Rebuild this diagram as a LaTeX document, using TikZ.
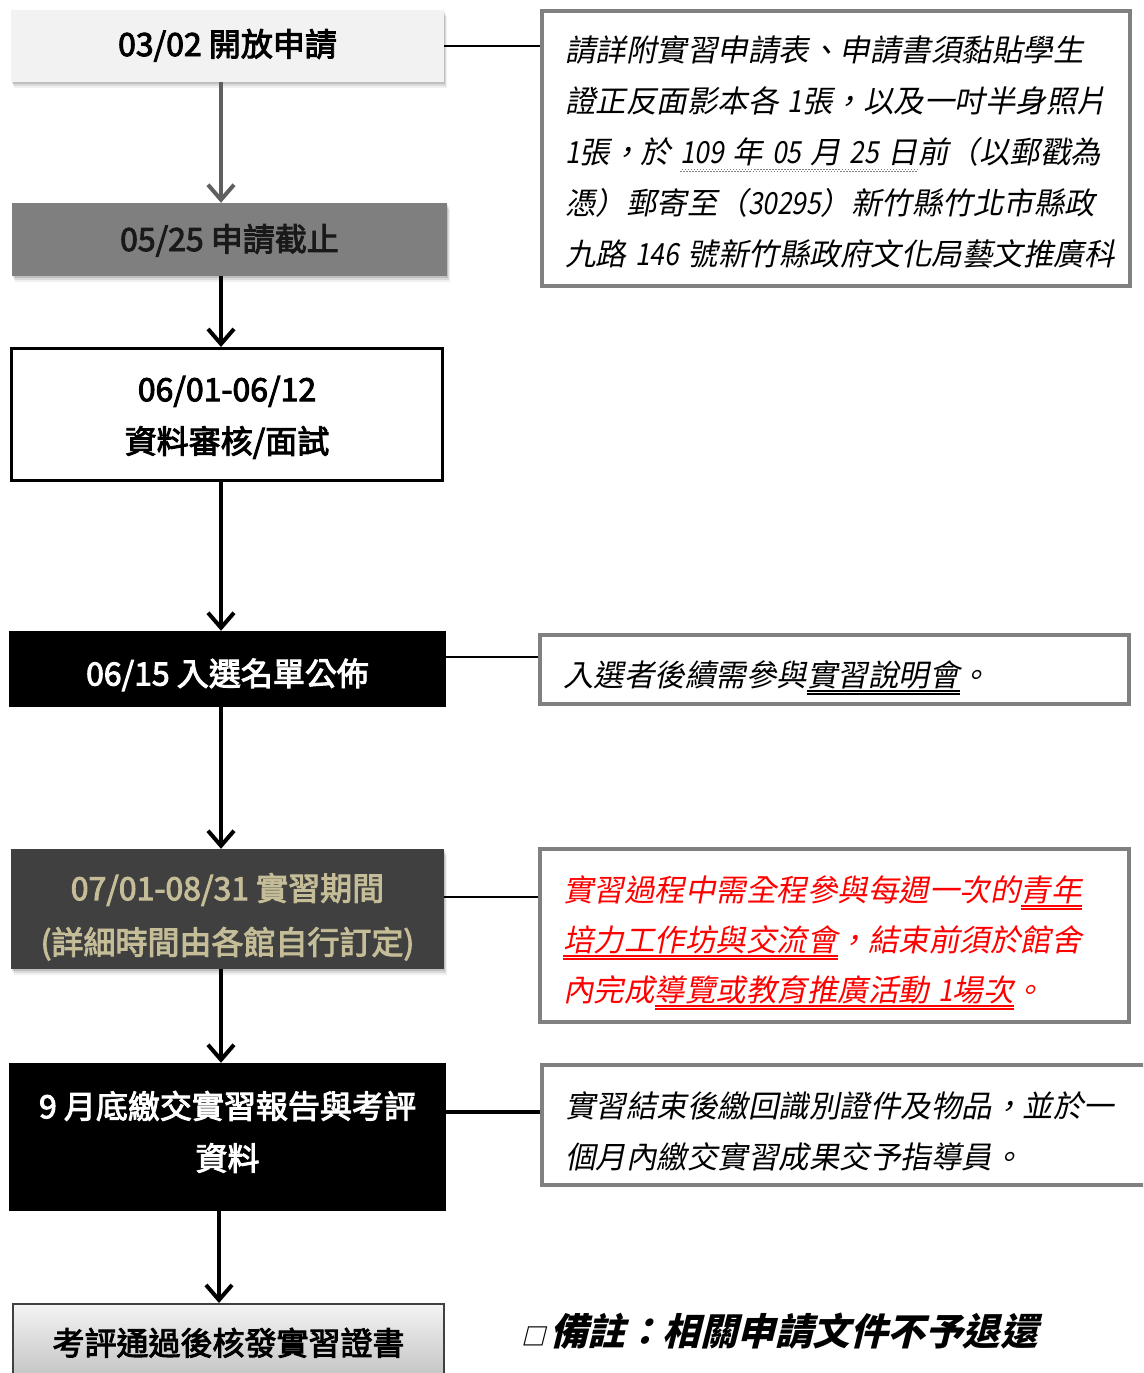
\documentclass[tikz,border=0pt]{standalone}
\usepackage{fontspec}
\usetikzlibrary{arrows.meta,shadows}
\newfontfamily\cjk{Noto Sans CJK TC}[FakeBold=3]
\newfontfamily\cjki{Noto Sans CJK TC}[FakeSlant=0.2]
\newfontfamily\cjkn{Noto Sans CJK TC}[FakeSlant=0.25]
\definecolor{boxA}{HTML}{F2F2F2}
\definecolor{boxB}{HTML}{7F7F7F}
\definecolor{boxE}{HTML}{404040}
\definecolor{tan}{HTML}{C4BD97}
\definecolor{arrgray}{HTML}{5F5F5F}
\definecolor{noteline}{HTML}{808080}
\definecolor{redtext}{HTML}{FF0000}
\newsavebox{\ulbox}
\newcommand\dul[1]{\sbox{\ulbox}{#1}\leavevmode\rlap{\lower8pt\hbox{\vbox{\hrule height1.4pt width\wd\ulbox\kern1.6pt\hrule height1.4pt width\wd\ulbox}}}\usebox{\ulbox}}
\newcommand\wav[1]{\sbox{\ulbox}{#1}\leavevmode\rlap{\hbox to\wd\ulbox{\color{gray}\xleaders\hbox{\rule[-8pt]{1.5pt}{0.9pt}\rule[-6.6pt]{1.5pt}{0.9pt}}\hfill}}\usebox{\ulbox}}
\newcommand\nd[1]{\scalebox{0.86}[1]{#1}}
\newcommand\ns{\hskip9pt\relax}
\begin{document}
\begin{tikzpicture}[x=1pt,y=-1pt,
  flowbox/.style={rectangle, inner sep=0pt, align=center, text depth=4pt,
    font=\cjk\fontsize{32}{52}\selectfont},
  notebox/.style={rectangle, draw=noteline, line width=4pt, fill=white,
    align=left, inner xsep=23pt, inner ysep=0pt,
    font=\cjki\fontsize{30.5}{51}\selectfont},
  shd/.style={drop shadow={shadow xshift=0.5pt, shadow yshift=-2pt, opacity=0.12, fill=black},
              drop shadow={shadow xshift=1.5pt, shadow yshift=-4pt, opacity=0.09, fill=black},
              drop shadow={shadow xshift=2.5pt, shadow yshift=-6pt, opacity=0.06, fill=black}},
  arr/.style={line width=4pt, -{Straight Barb[length=15pt,width=26pt,line width=4pt]}},
  link/.style={line width=1.5pt}
]
\useasboundingbox (0,0) rectangle (1143,1373);
\clip (0,0) rectangle (1143,1373);
\fill[white] (0,0) rectangle (1143,1373);

% flow boxes
\node[flowbox, shd, fill=boxA, minimum width=433pt, minimum height=72pt, text height=24pt] (b1) at (227.5,46) {03/02 開放申請};
\node[flowbox, shd, fill=boxB, text=black!90, minimum width=435pt, minimum height=73pt, text height=27pt] (b2) at (229.5,239.5) {05/25 申請截止};
\node[flowbox, draw=black, line width=3pt, fill=white, minimum width=431pt, minimum height=132pt, text height=81.4pt] (b3) at (227,414.5) {06/01-06/12\\資料審核/面試};
\node[flowbox, fill=black, text=white, minimum width=437pt, minimum height=76pt, text height=37pt] (b4) at (227.5,669) {06/15 入選名單公佈};
\node[flowbox, shd, fill=boxE, text=tan, minimum width=433pt, minimum height=120pt, text height=94.4pt, font=\cjk\fontsize{32}{54}\selectfont] (b5) at (227.5,909) {07/01-08/31 實習期間\\(詳細時間由各館自行訂定)};
\node[flowbox, fill=black, text=white, minimum width=437pt, minimum height=148pt, text height=70.4pt] (b6) at (227.5,1137) {9 月底繳交實習報告與考評\\資料};
\node[flowbox, draw=boxE, line width=2pt, top color=boxA!90!white, bottom color=black!25, minimum width=431pt, minimum height=80pt, text height=26pt] (b7) at (228.5,1344) {考評通過後核發實習證書};

% arrows
\coordinate (ax) at (221,0);
\coordinate (ay) at (219,0);
\draw[arr, arrgray] (b1.south -| ax) -- (b2.north -| ax);
\draw[arr] (b2.south -| ax) -- (b3.north -| ax);
\draw[arr] (b3.south -| ax) -- (b4.north -| ax);
\draw[arr] (b4.south -| ax) -- (b5.north -| ax);
\draw[arr] (b5.south -| ax) -- (b6.north -| ax);
\draw[arr] (b6.south -| ay) -- (b7.north -| ay);

% notes
\node[notebox, text width=542pt, minimum height=275pt, text height=6.2pt, text depth=180pt] (r1) at (836,148.5) {%
\mbox{請詳附實習申請表、申請書須黏貼學生}\\
\mbox{證正反面影本各\ns\nd{1}張，以及一吋半身照片}\\
\mbox{\nd{1}張，於\ns\wav{\nd{109}\ns 年\ns\nd{05}\ns 月\ns\nd{25}\ns 日}前（以郵戳為}\\
\mbox{憑）郵寄至（\nd{30295}）新竹縣竹北市縣政}\\
\mbox{九路\ns\nd{146}\ns 號新竹縣政府文化局藝文推廣科}};
\node[notebox, text width=543pt, minimum height=69pt, text height=38pt, text depth=4pt] (r2) at (834.5,669.5) {%
\mbox{入選者後續需參與\dul{實習說明會}。}};
\node[notebox, text width=543pt, minimum height=173pt, text height=12.2pt, text depth=80pt, text=redtext, font=\cjki\fontsize{30.5}{50}\selectfont] (r3) at (834.5,935.5) {%
\mbox{實習過程中需全程參與每週一次的\dul{青年}}\\
\mbox{\dul{培力工作坊與交流會}，結束前須於館舍}\\
\mbox{內完成\dul{導覽或教育推廣活動\ns\nd{1}場次}。}};
\node[notebox, text width=582pt, minimum height=120pt, text height=5.2pt, text depth=20pt] (r4) at (856,1125) {%
\mbox{實習結束後繳回識別證件及物品，並於一}\\
\mbox{個月內繳交實習成果交予指導員。}};

% connectors to notes
\draw[link] (b1.east) -- (b1.east -| r1.west);
\draw[link] ([yshift=12pt]b4.east) -- ([yshift=12pt]b4.east -| r2.west);
\draw[link] ([yshift=12pt]b5.east) -- ([yshift=12pt]b5.east -| r3.west);
\draw[line width=4pt] ([yshift=25pt]b6.east) -- ([yshift=25pt]b6.east -| r4.west);

% remark
\node[anchor=west, inner sep=0pt, font=\cjkn\bfseries\fontsize{37.5}{40}\selectfont] (remark) at (521,1331) {{\fontsize{24}{24}\selectfont □}\kern5pt 備註：相關申請文件不予退還};
\end{tikzpicture}
\end{document}
